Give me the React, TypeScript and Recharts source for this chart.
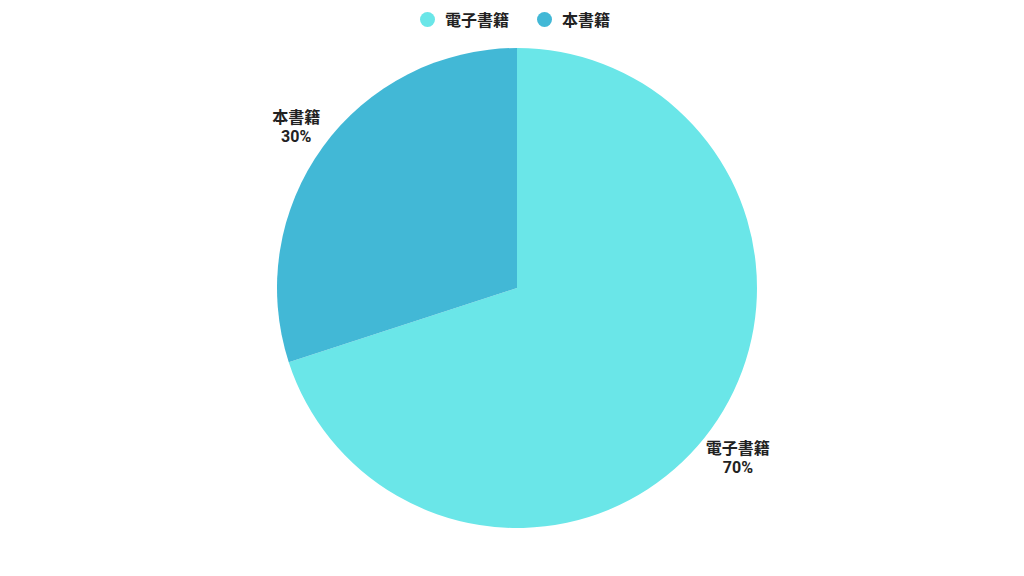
import React from 'react';
import { PieChart, Pie, Cell } from 'recharts';

const categories = ['電子書籍', '本書籍'];
const values = [70, 30];
const colors = ['#6ae6e8', '#42b8d6'];

const data = categories.map((name, i) => ({ name, value: values[i] }));

const FONT = 'Roboto, "Noto Sans CJK TC", sans-serif';
const RAD = Math.PI / 180;

const renderLabel = (props: any) => {
  const { cx, cy, midAngle, outerRadius, name, percent } = props;
  const rx = outerRadius + 33;
  const ry = outerRadius + 41;
  const x = cx + rx * Math.cos(-midAngle * RAD);
  const y = cy + ry * Math.sin(-midAngle * RAD);
  return (
    <g>
      <text x={x} y={y - 5} textAnchor="middle" dominantBaseline="central" fontFamily={FONT} fontSize={16} fontWeight={700} fill="#222">
        {name}
      </text>
      <text x={x} y={y + 14} textAnchor="middle" dominantBaseline="central" fontFamily={FONT} fontSize={16} fontWeight={700} fill="#222">
        {`${Math.round(percent * 100)}%`}
      </text>
    </g>
  );
};

export default function App() {
  return (
    <div style={{ position: 'absolute', left: 0, top: 0, width: 1024, height: 576, background: '#fff' }}>
      <div style={{ position: 'absolute', top: 9, left: 3, width: 1024, height: 20, display: 'flex', justifyContent: 'center', alignItems: 'center', fontFamily: FONT, fontSize: 16, fontWeight: 700, color: '#222' }}>
        {categories.map((c, i) => (
          <div key={c} style={{ display: 'flex', alignItems: 'center', marginLeft: i === 0 ? 0 : 28 }}>
            <span style={{ display: 'inline-block', width: 15, height: 15, borderRadius: 8, background: colors[i], marginRight: 10 }} />
            <span>{c}</span>
          </div>
        ))}
      </div>
      <PieChart width={1024} height={576} margin={{ top: 0, right: 0, bottom: 0, left: 0 }}>
        <Pie
          data={data}
          dataKey="value"
          nameKey="name"
          cx={517}
          cy={288}
          outerRadius={240}
          startAngle={90}
          endAngle={-270}
          stroke="none"
          label={renderLabel}
          labelLine={false}
          isAnimationActive={false}
        >
          {data.map((d, i) => (
            <Cell key={d.name} fill={colors[i]} />
          ))}
        </Pie>
      </PieChart>
    </div>
  );
}
